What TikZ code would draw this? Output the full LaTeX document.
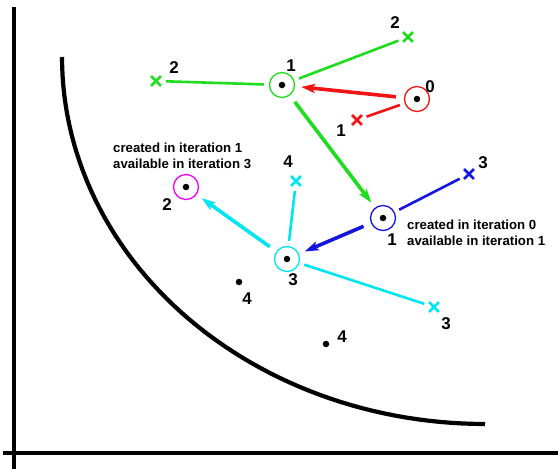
\documentclass[tikz,border=0pt]{standalone}
\usepackage{fontspec}
\setmainfont{Liberation Sans}
\usetikzlibrary{shapes.misc,arrows.meta}
\definecolor{cgreen}{RGB}{30,220,30}
\definecolor{cred}{RGB}{240,20,20}
\definecolor{cblue}{RGB}{20,20,220}
\definecolor{ccyan}{RGB}{0,230,240}
\definecolor{cmag}{RGB}{240,0,240}
\tikzset{
  pt/.style={circle,draw,line width=1.3pt,minimum size=25pt,inner sep=0pt},
  dot/.style={circle,fill=black,minimum size=6.5pt,inner sep=0pt},
  xm/.style={cross out,draw,line width=2.8pt,minimum size=7pt,inner sep=0pt},
  num/.style={font=\bfseries\fontsize{17}{19}\selectfont,inner sep=0pt},
  note/.style={font=\bfseries\fontsize{13.2}{16.5}\selectfont,align=left,inner sep=0pt},
  link/.style={line width=2.6pt,shorten <=5pt,shorten >=5pt},
  arr/.style={line width=3.6pt,shorten <=8pt,shorten >=6pt,-{Stealth[length=14pt,width=9pt,inset=3pt]}},
  axis/.style={line width=3.2pt},
}
\begin{document}
\begin{tikzpicture}[x=1pt,y=-1pt]
\useasboundingbox (0,0) rectangle (558,469);
% axes
\draw[axis] (14,7) -- (14,469);
\draw[axis] (3,453) -- (558,453);
% curve
\draw[line width=4.2pt] plot[domain=180:270,samples=60] ({485+423*cos(\x)},{57-367*sin(\x)});
% circles with dots
\node[pt,cred] (c0) at (417,99) {};
\node[dot] at (c0) {};
\node[pt,cgreen] (c1) at (282,85) {};
\node[dot] at (c1) {};
\node[pt,cblue] (b1) at (383,218) {};
\node[dot] at (b1) {};
\node[pt,ccyan] (k3) at (287,259) {};
\node[dot] at (k3) {};
\node[pt,cmag] (m2) at (186,187) {};
\node[dot] at (m2) {};
\node[dot] (d4a) at (239,282) {};
\node[dot] (d4b) at (326,344) {};
% cross markers
\node[xm,cred] (xr) at (357,120) {};
\node[xm,cgreen] (xg1) at (408,37) {};
\node[xm,cgreen] (xg2) at (156,81) {};
\node[xm,cblue] (xb) at (469,174) {};
\node[xm,ccyan] (xc1) at (296,181) {};
\node[xm,ccyan] (xc2) at (434,307) {};
% links
\draw[link,cred] (c0) -- (xr);
\draw[link,cgreen] (c1) -- (xg1);
\draw[link,cgreen] (c1) -- (xg2);
\draw[link,cblue] (b1) -- (xb);
\draw[link,ccyan] (k3) -- (xc1);
\draw[link,ccyan] (k3) -- (xc2);
% arrows
\draw[arr,cred] (c0) -- (c1);
\draw[arr,cgreen] (c1) -- (b1);
\draw[arr,cblue] (b1) -- (k3);
\draw[arr,ccyan] (k3) -- (m2);
% labels
\node[num] (l0) at (430,87) {0};
\node[num] (l1) at (291,66) {1};
\node[num] (lr) at (341,131) {1};
\node[num] (lg1) at (395,23) {2};
\node[num] (lg2) at (174,68) {2};
\node[num] (lb1) at (392,240) {1};
\node[num] (lxb) at (483,163) {3};
\node[num] (lc3) at (293,280) {3};
\node[num] (lxc1) at (288,162) {4};
\node[num] (lxc2) at (446,324) {3};
\node[num] (lm2) at (167,205) {2};
\node[num] (la) at (247,299) {4};
\node[num] (lb) at (342,337) {4};
\node[note,anchor=west] (n1) at (113,156) {created in iteration 1\\available in iteration 3};
\node[note,anchor=west] (n0) at (407,233) {created in iteration 0\\available in iteration 1};
\end{tikzpicture}
\end{document}
